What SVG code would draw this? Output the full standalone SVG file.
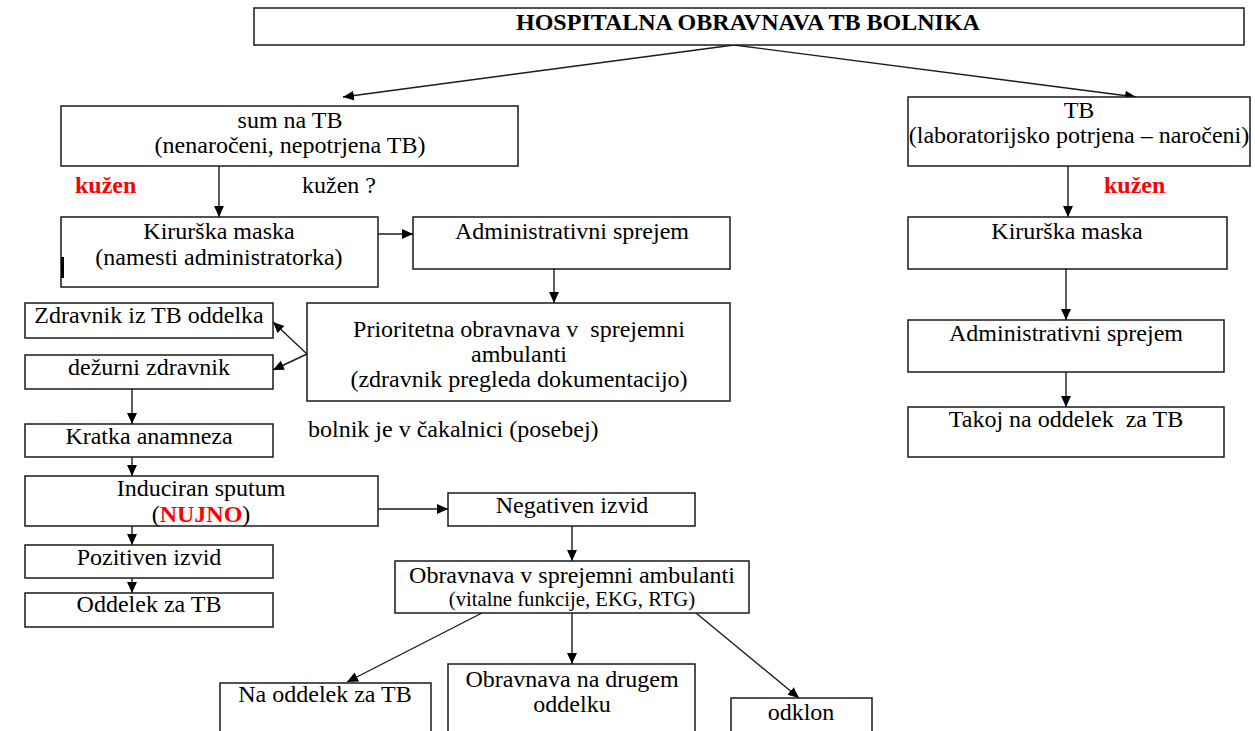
<svg xmlns="http://www.w3.org/2000/svg" width="1255" height="731" viewBox="0 0 1255 731">
<defs>
<style>
.box{fill:#fff;stroke:#1a1a1a;stroke-width:1.5}
.t{font-family:"Liberation Serif","Times New Roman",serif;font-size:24px;fill:#000;text-anchor:middle}
.l{text-anchor:start}
.b{font-weight:bold}
.red{fill:#ff0000;font-weight:bold}
.sm{font-size:20.7px}
.c{stroke:#1a1a1a;stroke-width:1.4;fill:none;marker-end:url(#ah)}
</style>
<marker id="ah" viewBox="0 0 10 10" refX="10" refY="5" markerWidth="11" markerHeight="11" markerUnits="userSpaceOnUse" orient="auto">
<path d="M0,0.5 L10,5 L0,9.5 z" fill="#000"/>
</marker>
</defs>
<rect width="1255" height="731" fill="#fff"/>

<g id="connectors">
<line class="c" x1="734" y1="45" x2="343" y2="97"/>
<line class="c" x1="734" y1="45" x2="1136" y2="97"/>
<line class="c" x1="219" y1="166" x2="219" y2="217"/>
<line class="c" x1="378" y1="234" x2="413" y2="234"/>
<line class="c" x1="554" y1="269" x2="554" y2="303"/>
<line class="c" x1="307" y1="354" x2="273" y2="322"/>
<line class="c" x1="307" y1="354" x2="273" y2="370"/>
<line class="c" x1="132" y1="389" x2="132" y2="424"/>
<line class="c" x1="132" y1="457" x2="132" y2="476"/>
<line class="c" x1="378" y1="509" x2="448" y2="509"/>
<line class="c" x1="132" y1="526" x2="132" y2="545"/>
<line class="c" x1="132" y1="578" x2="132" y2="593"/>
<line class="c" x1="572" y1="526" x2="572" y2="561"/>
<line class="c" x1="482" y1="613" x2="347" y2="682"/>
<line class="c" x1="572" y1="613" x2="572" y2="664"/>
<line class="c" x1="696" y1="613" x2="799" y2="698"/>
<line class="c" x1="1068" y1="166" x2="1068" y2="217"/>
<line class="c" x1="1066" y1="269" x2="1066" y2="320"/>
<line class="c" x1="1066" y1="372" x2="1066" y2="407"/>
</g>

<g id="title">
<rect class="box" x="254" y="8" width="990" height="37"/>
<text class="t b" x="748" y="30">HOSPITALNA OBRAVNAVA TB BOLNIKA</text>
</g>

<g id="sum-tb">
<rect class="box" x="61" y="106" width="457" height="60"/>
<text class="t" x="290" y="128">sum na TB</text>
<text class="t" x="290" y="153">(nenaročeni, nepotrjena TB)</text>
</g>

<g id="label-kuzen-left">
<text class="t l red" x="75" y="193">kužen</text>
</g>
<g id="label-kuzen-q">
<text class="t l" x="302" y="193">kužen ?</text>
</g>

<g id="kirurska-left">
<rect class="box" x="61" y="217" width="317" height="70"/>
<rect x="61" y="257" width="3" height="21" fill="#000"/>
<text class="t" x="219" y="239">Kirurška maska</text>
<text class="t" x="219" y="265">(namesti administratorka)</text>
</g>

<g id="admin-left">
<rect class="box" x="413" y="217" width="317" height="52"/>
<text class="t" x="572" y="239">Administrativni sprejem</text>
</g>

<g id="prioritetna">
<rect class="box" x="307" y="303" width="423" height="98"/>
<text class="t" x="519" y="337" xml:space="preserve">Prioritetna obravnava v  sprejemni</text>
<text class="t" x="519" y="362">ambulanti</text>
<text class="t" x="519" y="387">(zdravnik pregleda dokumentacijo)</text>
</g>

<g id="label-cakalnica">
<text class="t l" x="308" y="437">bolnik je v čakalnici (posebej)</text>
</g>

<g id="zdravnik-tb">
<rect class="box" x="25" y="303" width="248" height="35"/>
<text class="t" x="149" y="323">Zdravnik iz TB oddelka</text>
</g>

<g id="dezurni">
<rect class="box" x="25" y="355" width="248" height="34"/>
<text class="t" x="149" y="375">dežurni zdravnik</text>
</g>

<g id="kratka">
<rect class="box" x="25" y="424" width="248" height="33"/>
<text class="t" x="149" y="444">Kratka anamneza</text>
</g>

<g id="induciran">
<rect class="box" x="25" y="476" width="353" height="50"/>
<text class="t" x="201" y="496">Induciran sputum</text>
<text class="t" x="201" y="522">(<tspan class="red">NUJNO</tspan>)</text>
</g>

<g id="pozitiven">
<rect class="box" x="25" y="545" width="248" height="33"/>
<text class="t" x="149" y="565">Pozitiven izvid</text>
</g>

<g id="oddelek-tb">
<rect class="box" x="25" y="593" width="248" height="34"/>
<text class="t" x="149" y="612">Oddelek za TB</text>
</g>

<g id="negativen">
<rect class="box" x="448" y="493" width="247" height="33"/>
<text class="t" x="572" y="513">Negativen izvid</text>
</g>

<g id="obravnava-sprejemni">
<rect class="box" x="395" y="561" width="354" height="52"/>
<text class="t" x="572" y="583">Obravnava v sprejemni ambulanti</text>
<text class="t sm" x="572" y="606">(vitalne funkcije, EKG, RTG)</text>
</g>

<g id="na-oddelek">
<rect class="box" x="220" y="683" width="211" height="60"/>
<text class="t" x="325" y="702">Na oddelek za TB</text>
</g>

<g id="drugi-oddelek">
<rect class="box" x="448" y="664" width="247" height="80"/>
<text class="t" x="572" y="687">Obravnava na drugem</text>
<text class="t" x="572" y="712">oddelku</text>
</g>

<g id="odklon">
<rect class="box" x="731" y="698" width="141" height="45"/>
<text class="t" x="801" y="720">odklon</text>
</g>

<g id="tb-right">
<rect class="box" x="908" y="97" width="342" height="69"/>
<text class="t" x="1079" y="118">TB</text>
<text class="t" x="1079" y="143">(laboratorijsko potrjena – naročeni)</text>
</g>

<g id="label-kuzen-right">
<text class="t l red" x="1104" y="193">kužen</text>
</g>

<g id="kirurska-right">
<rect class="box" x="908" y="217" width="319" height="52"/>
<text class="t" x="1067" y="239">Kirurška maska</text>
</g>

<g id="admin-right">
<rect class="box" x="908" y="320" width="316" height="52"/>
<text class="t" x="1066" y="341">Administrativni sprejem</text>
</g>

<g id="takoj">
<rect class="box" x="908" y="407" width="316" height="50"/>
<text class="t" x="1066" y="427" xml:space="preserve">Takoj na oddelek  za TB</text>
</g>
</svg>
